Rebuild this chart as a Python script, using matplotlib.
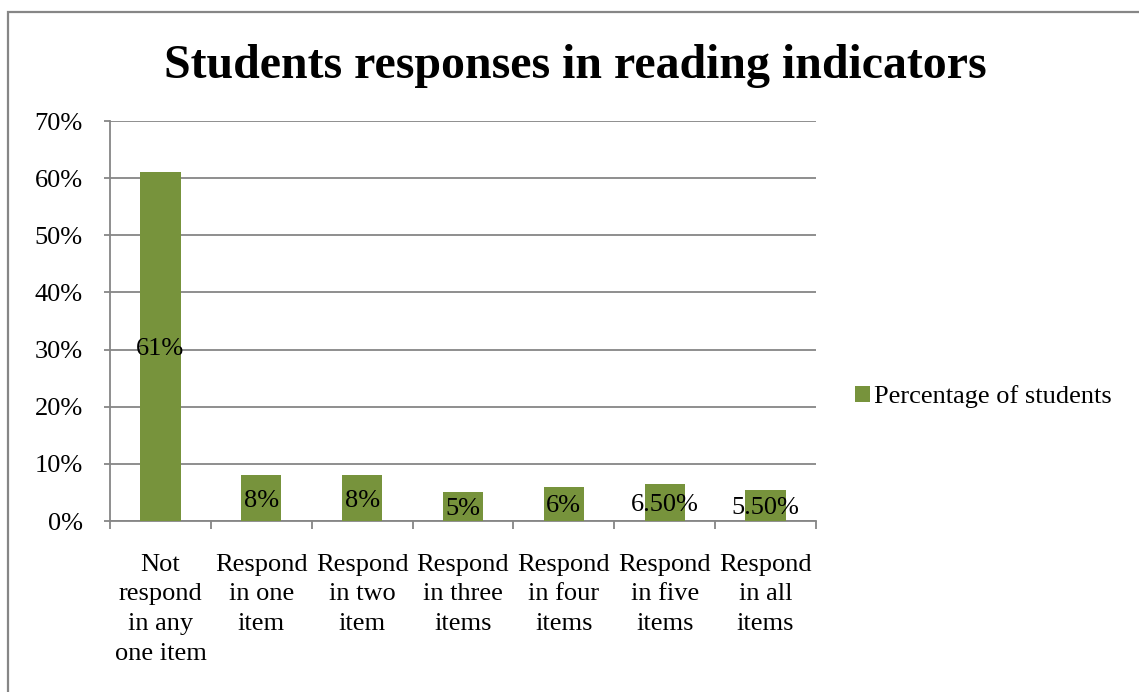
import matplotlib
matplotlib.use("Agg")
import matplotlib.pyplot as plt
from matplotlib.patches import Rectangle
from matplotlib.ticker import FuncFormatter, MultipleLocator

categories = [
    "Not\nrespond\nin any\none item",
    "Respond\nin one\nitem",
    "Respond\nin two\nitem",
    "Respond\nin three\nitems",
    "Respond\nin four\nitems",
    "Respond\nin five\nitems",
    "Respond\nin all\nitems",
]
percentages = [61, 8, 8, 5, 6, 6.5, 5.5]
value_labels = ["61%", "8%", "8%", "5%", "6%", "6.50%", "5.50%"]
series_name = "Percentage of students"

BAR_COLOR = "#77933C"
LINE_COLOR = "#868686"

plt.rcParams["font.family"] = ["Liberation Serif", "DejaVu Serif"]
plt.rcParams["font.size"] = 19

fig = plt.figure(figsize=(11.39, 6.92), dpi=100)
ax = fig.add_axes([0.0966, 0.2471, 0.6198, 0.578])

x = range(len(categories))
bars = ax.bar(x, percentages, width=0.4, color=BAR_COLOR, label=series_name, zorder=3)

# value labels sit in the middle of each bar
for rect, text in zip(bars, value_labels):
    ax.text(rect.get_x() + rect.get_width() / 2, rect.get_height() / 2, text,
            ha="center", va="center_baseline", fontsize=19, color="black", zorder=4)

ax.set_xlim(-0.5, len(categories) - 0.5)
ax.set_ylim(0, 70)
ax.yaxis.set_major_locator(MultipleLocator(10))
ax.yaxis.set_major_formatter(FuncFormatter(lambda v, _: f"{v:.0f}%"))
ax.yaxis.grid(True, color=LINE_COLOR, linewidth=1.3, zorder=0)

# category labels centred between boundary ticks
ax.set_xticks([i for i in x])
ax.set_xticklabels(categories, linespacing=1.45)
ax.set_xticks([i - 0.5 for i in range(len(categories) + 1)], minor=True)
ax.tick_params(axis="x", which="major", length=0, pad=23.5)
ax.tick_params(axis="x", which="minor", length=6, width=1.3, color=LINE_COLOR, direction="out")
ax.tick_params(axis="y", length=4.5, width=1.3, color=LINE_COLOR, pad=15, direction="out")

for side in ("top", "right"):
    ax.spines[side].set_visible(False)
for side in ("left", "bottom"):
    ax.spines[side].set_color(LINE_COLOR)
    ax.spines[side].set_linewidth(1.3)

fig.suptitle("Students responses in reading indicators", x=0.505, y=0.904,
             fontsize=34.5, fontweight="bold", va="center")

fig.legend(loc="center left", bbox_to_anchor=(0.7415, 0.427), frameon=False,
           handlelength=0.55, handleheight=0.55, handletextpad=0.15,
           borderaxespad=0, fontsize=19)

# outer chart border, running off the right and bottom edges
fig.patches.append(Rectangle((0.007, -0.05), 1.05, 1.0327, transform=fig.transFigure,
                             fill=False, edgecolor=LINE_COLOR, linewidth=1.6))

fig.savefig("out.png", dpi=100)
